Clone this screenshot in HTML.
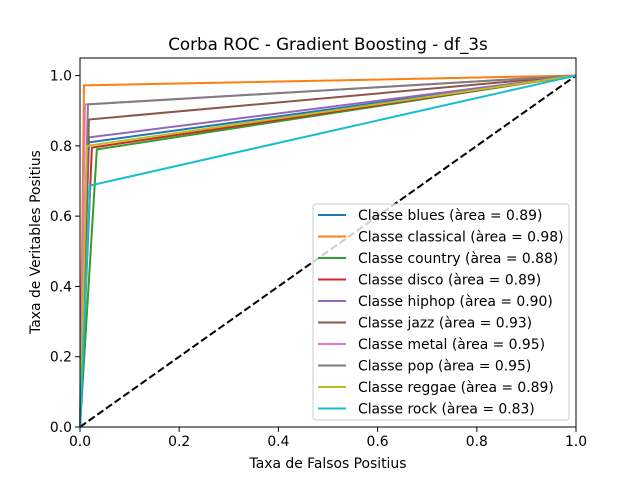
<!DOCTYPE html>
<html><head><meta charset="utf-8"><style>
body{margin:0;background:#fff;}
svg{display:block;font-family:"DejaVu Sans","Liberation Sans",sans-serif;}
</style></head><body>
<svg id="chart" width="640" height="480">
<rect x="0" y="0" width="640" height="480" fill="#fff"/>
<text x="328" y="50" font-size="16.7" text-anchor="middle">Corba ROC - Gradient Boosting - df_3s</text>
<g id="plot"></g>
<text x="328" y="468" font-size="13.9" text-anchor="middle">Taxa de Falsos Positius</text>
<text transform="translate(40,242) rotate(-90)" font-size="13.9" text-anchor="middle">Taxa de Veritables Positius</text>
</svg>
<script>
const classes=["blues","classical","country","disco","hiphop","jazz","metal","pop","reggae","rock"];
const fprs=[0.018,0.008,0.034,0.024,0.018,0.018,0.010,0.016,0.014,0.020];
const tprs=[0.810,0.972,0.790,0.795,0.824,0.875,0.918,0.918,0.800,0.687];
const aucs=["0.89","0.98","0.88","0.89","0.90","0.93","0.95","0.95","0.89","0.83"];
const xTicks=[0,0.2,0.4,0.6,0.8,1.0];
const yTicks=[0,0.2,0.4,0.6,0.8,1.0];
const colors=["#1f77b4","#ff7f0e","#2ca02c","#d62728","#9467bd","#8c564b","#e377c2","#7f7f7f","#bcbd22","#17becf"];
const L=80,R=576,T=58,B=427;
const sx=v=>L+v*(R-L);
const sy=v=>B-v/1.05*(B-T);
const NS="http://www.w3.org/2000/svg";
const g=document.getElementById('plot');
function mk(t,a,p){const e=document.createElementNS(NS,t);for(const k in a)e.setAttribute(k,a[k]);(p||g).appendChild(e);return e;}
const diag=mk('line',{x1:sx(0),y1:sy(0),x2:sx(1),y2:sy(1),stroke:'#000','stroke-width':2,'stroke-dasharray':'7.4,3.2'});


classes.forEach((c,i)=>{
 const p=mk('polyline',{points:`${sx(0)},${sy(0)} ${sx(fprs[i])},${sy(tprs[i])} ${sx(1)},${sy(1)}`,fill:'none',stroke:colors[i],'stroke-width':2});
 
 
});
mk('rect',{x:L,y:T,width:R-L,height:B-T,fill:'none',stroke:'#000','stroke-width':1});
xTicks.forEach(v=>{
 mk('line',{x1:sx(v),y1:B,x2:sx(v),y2:B+4.9,stroke:'#000','stroke-width':1});
 const t=mk('text',{x:sx(v),y:B+19,'font-size':13.9,'text-anchor':'middle'});t.textContent=v.toFixed(1);
 
 
});
yTicks.forEach(v=>{
 mk('line',{x1:L,y1:sy(v),x2:L-4.9,y2:sy(v),stroke:'#000','stroke-width':1});
 const t=mk('text',{x:L-8,y:sy(v)+5,'font-size':13.9,'text-anchor':'end'});t.textContent=v.toFixed(1);
 
 
});
const lg=mk('g',{});


mk('rect',{x:313,y:204,width:256,height:216,rx:3,fill:'#fff','fill-opacity':0.8,stroke:'#ccc','stroke-width':1},lg);
classes.forEach((c,i)=>{
 const y=215+i*21.5;
 mk('line',{x1:318,y1:y,x2:346,y2:y,stroke:colors[i],'stroke-width':2},lg);
 const t=mk('text',{x:358,y:y+5,'font-size':13.9},lg);
 t.textContent=`Classe ${c} (àrea = ${aucs[i]})`;
 
 
});
</script>
</body></html>
